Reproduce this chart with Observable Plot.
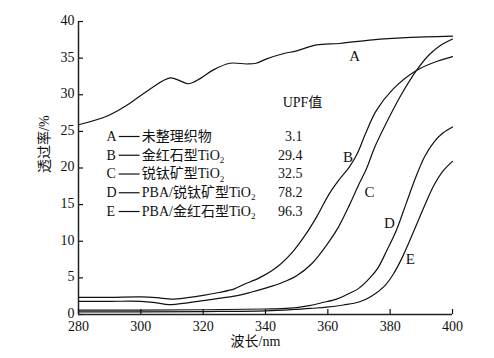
<!DOCTYPE html>
<html><head><meta charset="utf-8">
<script src="https://cdn.jsdelivr.net/npm/d3@7"></script>
<script src="https://cdn.jsdelivr.net/npm/@observablehq/plot@0.6"></script>
<style>body{margin:0;background:#fff} #chart svg{display:block}</style>
</head><body><div id="chart"></div>
<script>
// Wavelength (nm) / transmittance (%)
const aX = [280, 289.2, 295.6, 303, 309.4, 312.6, 315.3, 319, 323.3, 328.6, 334, 337, 340.4, 345.6, 350, 356.4, 363.8, 374.4, 385.2, 400];
const aY = [25.9, 27.1, 28.6, 30.8, 32.3, 31.9, 31.5, 32.2, 33.4, 34.3, 34.2, 34.3, 34.9, 35.6, 36.0, 36.8, 37.0, 37.5, 37.8, 38.0];
const bX = [280, 290, 300, 305, 310, 315, 320, 325, 330, 333, 338, 344, 349, 353, 356.5, 360.5, 364, 367, 369.5, 372, 375.5, 381, 388.4, 394, 400];
const bY = [2.35, 2.35, 2.4, 2.3, 2.1, 2.3, 2.6, 3.0, 3.5, 4.1, 5.0, 6.6, 8.7, 11.0, 13.4, 16.5, 18.6, 20.2, 22.0, 24.6, 27.8, 30.8, 33.3, 34.4, 35.2];
const cX = [280, 290, 300, 305, 309, 315, 320, 325, 330, 335, 340, 345, 350, 355, 360, 363.5, 367, 370, 372.5, 375, 378, 383, 388.4, 392.6, 396, 400];
const cY = [1.8, 1.8, 1.8, 1.6, 1.35, 1.6, 1.9, 2.2, 2.5, 3.0, 3.6, 4.3, 5.3, 7.0, 9.7, 12.0, 15.0, 17.8, 20.0, 22.8, 25.5, 29.6, 33.3, 35.5, 36.7, 37.6];
const dX = [280, 300, 320, 340, 345, 350, 354, 358, 362.8, 366, 370, 373.5, 376, 379, 382, 385, 388, 391, 394, 397, 400];
const dY = [0.6, 0.6, 0.65, 0.75, 0.8, 0.95, 1.2, 1.6, 2.1, 2.7, 3.6, 5.0, 6.3, 8.8, 11.5, 15.0, 18.5, 21.5, 23.5, 24.8, 25.6];
const eX = [280, 300, 320, 340, 349, 355, 359.6, 365, 370, 374, 378, 381, 384, 388, 391, 394, 397, 400];
const eY = [0.35, 0.35, 0.4, 0.5, 0.68, 0.85, 1.0, 1.3, 1.7, 2.5, 3.8, 5.5, 7.9, 11.8, 14.8, 17.6, 19.6, 20.9];

const seriesNames = ["A", "B", "C", "D", "E"];
const labelX = [368.6, 366.5, 373.4, 379.8, 386.5];
const labelY = [35.3, 21.5, 16.7, 12.4, 7.5];

const legendNames = ["未整理织物", "金红石型TiO2", "锐钛矿型TiO2", "PBA/锐钛矿型TiO2", "PBA/金红石型TiO2"];
const upfValues = ["3.1", "29.4", "32.5", "78.2", "96.3"];
const upfHeader = "UPF值";

const xTicks = [280, 300, 320, 340, 360, 380, 400];
const yTicks = [0, 5, 10, 15, 20, 25, 30, 35, 40];
const xTitle = "波长/nm";
const yTitle = "透过率/%";

// build tables
const seriesX = [aX, bX, cX, dX, eX];
const seriesY = [aY, bY, cY, dY, eY];
const rows = seriesNames.flatMap((s, i) => seriesX[i].map((x, j) => ({series: s, wl: x, t: seriesY[i][j]})));
const curveLabels = seriesNames.map((s, i) => ({s, x: labelX[i], y: labelY[i]}));

// legend layout (data units)
const legTop = 24.3, legStep = 2.56;
const legend = seriesNames.map((s, i) => ({s, name: legendNames[i], upf: upfValues[i], y: legTop - i * legStep}));

const serif = '"Liberation Serif","Times New Roman","Noto Sans CJK SC",serif';

const chart = Plot.plot({
  width: 494, height: 358,
  marginLeft: 78, marginRight: 42, marginTop: 21, marginBottom: 44,
  x: {domain: [280, 400]},
  y: {domain: [0, 40]},
  style: {fontFamily: serif, fontSize: "14px", background: "white", color: "#111"},
  marks: [
    Plot.axisX({ticks: xTicks, tickSize: 0, tickPadding: 7, label: null, fontSize: 14}),
    Plot.axisX({ticks: xTicks, tickSize: 5, dy: -5, fill: "none", label: null, strokeWidth: 1.2}),
    Plot.axisY({ticks: yTicks, tickSize: 0, tickPadding: 4, dy: -1, label: null, fontSize: 14}),
    Plot.axisY({ticks: yTicks, tickSize: 5, dx: 5, fill: "none", label: null, strokeWidth: 1.2}),
    Plot.ruleX([280], {stroke: "#222", strokeWidth: 1.5}),
    Plot.ruleY([0], {stroke: "#222", strokeWidth: 1.5}),
    Plot.line(rows, {x: "wl", y: "t", z: "series", curve: "catmull-rom", stroke: "#111", strokeWidth: 1.2}),
    Plot.text(curveLabels, {x: "x", y: "y", text: "s", fontSize: 15, fill: "#111"}),
    // legend
    Plot.text(legend, {x: () => 289.0, y: "y", text: "s", textAnchor: "start", fontSize: 14, fill: "#111"}),
    Plot.link(legend, {x1: () => 292.9, x2: () => 299.6, y1: "y", y2: "y", stroke: "#111", strokeWidth: 1.2}),
    Plot.text(legend, {x: () => 300.3, y: "y", text: "name", textAnchor: "start", fontSize: 14, fill: "#111"}),
    Plot.text(legend, {x: () => 351.9, y: "y", text: "upf", textAnchor: "end", fontSize: 14, fill: "#111"}),
    Plot.text([upfHeader], {x: () => 345.5, y: () => 28.9, text: d => d, textAnchor: "start", fontSize: 14, fill: "#111"}),
    // axis titles
    Plot.text([yTitle], {frameAnchor: "left", text: d => d, rotate: -90, dx: -34, dy: 5, fontSize: 14, fill: "#111"}),
    Plot.text([xTitle], {frameAnchor: "bottom", text: d => d, dy: 31, dx: -10, fontSize: 14, fill: "#111"})
  ]
});

// subscript "2" in TiO2
chart.querySelectorAll("text").forEach(t => {
  if (t.children.length === 0 && t.textContent.endsWith("TiO2")) {
    t.textContent = t.textContent.slice(0, -1);
    const ts = document.createElementNS("http://www.w3.org/2000/svg", "tspan");
    ts.setAttribute("dy", "0.35em");
    ts.setAttribute("font-size", "9");
    ts.textContent = "2";
    t.appendChild(ts);
  }
});

document.getElementById("chart").appendChild(chart);
</script>
</body></html>
